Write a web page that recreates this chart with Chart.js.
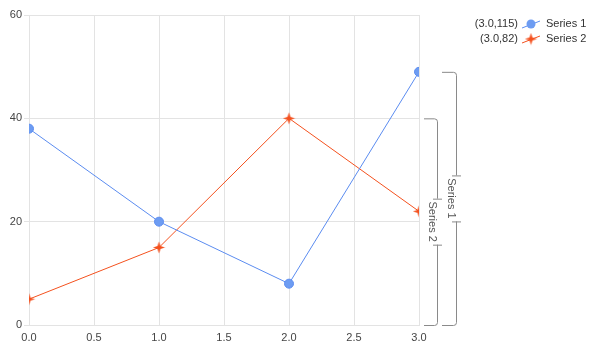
<!DOCTYPE html>
<html>
<head>
<meta charset="utf-8">
<script src="https://cdn.jsdelivr.net/npm/chart.js@4/dist/chart.umd.min.js"></script>
<style>
  html, body { margin: 0; padding: 0; background: #fff; }
  #wrap { width: 592px; height: 351px; }
</style>
</head>
<body>
<div id="wrap"><canvas id="chart" width="592" height="351"></canvas></div>
<script>
const xValues = [0, 1, 2, 3]
const series1 = [38, 20, 8, 49]
const series2 = [5, 15, 40, 22]
const seriesNames = ['Series 1', 'Series 2']
const legendLabels = ['(3.0,115)', '(3.0,82)']

const blue = '#5b8cf0'
const red = '#f4511e'
const fontName = '"Liberation Sans", Arial, sans-serif'

// 4 pointed star used as point marker
function makeStar(size, color) {
    const c = document.createElement('canvas')
    c.width = size
    c.height = size
    const g = c.getContext('2d')
    const m = size / 2
    const r = size / 2 - 0.5
    const ri = r * 0.35
    g.fillStyle = color
    g.beginPath()
    for (let i = 0; i < 8; i++) {
        const a = -Math.PI / 2 + i * Math.PI / 4
        const rr = i % 2 === 0 ? r : ri
        const px = m + Math.cos(a) * rr
        const py = m + Math.sin(a) * rr
        if (i === 0) g.moveTo(px, py)
        else g.lineTo(px, py)
    }
    g.closePath()
    g.fill()
    return c
}
const starImg = makeStar(13, red)

function toPoints(ys) {
    return xValues.map((x, i) => ({ x: x, y: ys[i] }))
}

// legend + side brackets
const extras = {
    id: 'extras',
    afterDraw(chart) {
        const ctx = chart.ctx
        const ys = chart.scales.y
        ctx.save()
        ctx.font = '11px ' + fontName
        ctx.textBaseline = 'middle'

        // legend rows
        const rows = [24, 39]
        const mx = 531
        for (let i = 0; i < 2; i++) {
            const y = rows[i]
            ctx.fillStyle = '#333'
            ctx.textAlign = 'right'
            ctx.fillText(legendLabels[i], 518, y)
            ctx.textAlign = 'left'
            ctx.fillText(seriesNames[i], 546, y)
            ctx.strokeStyle = i === 0 ? blue : red
            ctx.lineWidth = 1
            ctx.beginPath()
            ctx.moveTo(522, y + 4)
            ctx.lineTo(540, y - 3)
            ctx.stroke()
            if (i === 0) {
                ctx.fillStyle = '#6d9cf2'
                ctx.beginPath()
                ctx.arc(mx, y, 4.5, 0, Math.PI * 2)
                ctx.fill()
            } else {
                ctx.drawImage(starImg, mx - 6.5, y - 6.5)
            }
        }

        // brackets
        const brackets = [
            { x: 456, x0: 442, top: ys.getPixelForValue(series1[3]), name: seriesNames[0] },
            { x: 437, x0: 424, top: ys.getPixelForValue(series2[2]), name: seriesNames[1] }
        ]
        const bottom = ys.getPixelForValue(0)
        brackets.forEach(b => {
            const mid = (b.top + bottom) / 2
            const half = 23
            const r = 3
            ctx.strokeStyle = '#8a8a8a'
            ctx.lineWidth = 1
            ctx.beginPath()
            ctx.moveTo(b.x0, b.top + 0.5)
            ctx.lineTo(b.x - r, b.top + 0.5)
            ctx.arcTo(b.x + 0.5, b.top + 0.5, b.x + 0.5, b.top + r, r)
            ctx.lineTo(b.x + 0.5, mid - half)
            ctx.moveTo(b.x - 4, mid - half + 0.5)
            ctx.lineTo(b.x + 5, mid - half + 0.5)
            ctx.moveTo(b.x - 4, mid + half + 0.5)
            ctx.lineTo(b.x + 5, mid + half + 0.5)
            ctx.moveTo(b.x + 0.5, mid + half)
            ctx.lineTo(b.x + 0.5, bottom - r)
            ctx.arcTo(b.x + 0.5, bottom + 0.5, b.x - r, bottom + 0.5, r)
            ctx.lineTo(b.x0, bottom + 0.5)
            ctx.stroke()

            ctx.save()
            ctx.translate(b.x - 5, mid)
            ctx.rotate(Math.PI / 2)
            ctx.fillStyle = '#555'
            ctx.textAlign = 'center'
            ctx.textBaseline = 'middle'
            ctx.fillText(b.name, 0, 0)
            ctx.restore()
        })
        ctx.restore()
    }
}

const tickFont = { family: fontName, size: 11 }

new Chart(document.getElementById('chart'), {
    type: 'scatter',
    data: {
        datasets: [{
            label: seriesNames[0],
            data: toPoints(series1),
            showLine: true,
            borderColor: blue,
            borderWidth: 1,
            backgroundColor: '#6d9cf2',
            pointBackgroundColor: '#6d9cf2',
            pointBorderColor: '#5b8cf0',
            pointBorderWidth: 1,
            pointRadius: 4.5,
            pointStyle: 'circle'
        }, {
            label: seriesNames[1],
            data: toPoints(series2),
            showLine: true,
            borderColor: red,
            borderWidth: 1,
            backgroundColor: red,
            pointStyle: starImg
        }]
    },
    options: {
        responsive: false,
        animation: false,
        layout: { padding: { top: 15, right: 173, left: 0, bottom: 0 } },
        plugins: {
            legend: { display: false },
            tooltip: { enabled: false }
        },
        scales: {
            x: {
                type: 'linear',
                min: 0,
                max: 3,
                afterFit: s => { s.height = 26 },
                ticks: {
                    stepSize: 0.5,
                    color: '#444',
                    font: tickFont,
                    padding: 6,
                    maxRotation: 0,
                    callback: v => v.toFixed(1)
                },
                grid: { color: '#e3e3e3', tickLength: 0 },
                border: { color: '#e3e3e3' }
            },
            y: {
                min: 0,
                max: 60,
                afterFit: s => { s.width = 29 },
                ticks: {
                    stepSize: 20,
                    color: '#444',
                    font: tickFont,
                    padding: 2
                },
                grid: { color: '#e3e3e3', tickLength: 5 },
                border: { color: '#e3e3e3' }
            }
        }
    },
    plugins: [extras]
})
</script>
</body>
</html>
